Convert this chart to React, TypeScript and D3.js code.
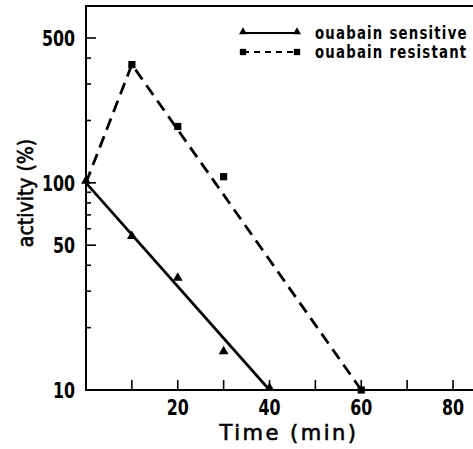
import { useEffect, useRef } from 'react'
import * as d3 from 'd3'

// values
const sensitiveTime = [0, 10, 20, 30, 40]
const sensitiveActivity = [100, 54, 34, 15, 10]
const resistantTime = [0, 10, 20, 30, 60]
const resistantActivity = [100, 372, 187, 107, 10]

// drawn lines (fits)
const sensitiveFitTime = [0, 40]
const sensitiveFitActivity = [100, 10]
const resistantFitTime = [0, 10, 60]
const resistantFitActivity = [100, 372, 10]

const xTicks = [10, 20, 30, 40, 50, 60, 70, 80]
const xTickLabels = [20, 40, 60, 80]
const yTicks = [20, 30, 40, 50, 60, 70, 80, 90, 100, 200, 300, 400, 500]
const yTickLabels = [10, 50, 100, 500]

const legendLabels = ['ouabain sensitive', 'ouabain resistant']

export default function App() {
  const ref = useRef<SVGSVGElement>(null)

  const width = 473
  const height = 449

  useEffect(() => {
    const svg = d3.select(ref.current)
    svg.selectAll('*').remove()

    const left = 86
    const bottom = 390
    const top = 6

    const x = d3.scaleLinear().domain([0, 80]).range([left, 453])
    const y = d3.scaleLog().domain([10, 500]).range([bottom, 38])

    const font = "'DejaVu Sans Condensed', 'DejaVu Sans', sans-serif"
    const plain = "'DejaVu Sans', sans-serif"

    // frame
    svg.append('path')
      .attr('d', `M${width},${top}H${left}V${bottom}H${width}`)
      .attr('fill', 'none')
      .attr('stroke', '#000')
      .attr('stroke-width', 2)

    // x ticks (inward)
    svg.selectAll('.xtick')
      .data(xTicks)
      .enter()
      .append('line')
      .attr('x1', (d) => x(d))
      .attr('x2', (d) => x(d))
      .attr('y1', bottom)
      .attr('y2', bottom - 10)
      .attr('stroke', '#000')
      .attr('stroke-width', 1.6)

    svg.selectAll('.xlabel')
      .data(xTickLabels)
      .enter()
      .append('text')
      .attr('transform', (d) => `translate(${x(d)},${bottom + 25}) scale(0.8,1)`)
      .attr('text-anchor', 'middle')
      .style('font-family', font)
      .style('font-weight', 'bold')
      .style('font-size', '22px')
      .text((d) => d)

    // y ticks (inward)
    svg.selectAll('.ytick')
      .data(yTicks)
      .enter()
      .append('line')
      .attr('x1', left)
      .attr('x2', (d) => left + (yTickLabels.includes(d) ? 10 : 5))
      .attr('y1', (d) => y(d))
      .attr('y2', (d) => y(d))
      .attr('stroke', '#000')
      .attr('stroke-width', 1.6)

    svg.selectAll('.ylabel')
      .data(yTickLabels)
      .enter()
      .append('text')
      .attr('transform', (d) => `translate(75,${y(d) + 8}) scale(0.8,1)`)
      .attr('text-anchor', 'end')
      .style('font-family', font)
      .style('font-weight', 'bold')
      .style('font-size', '22px')
      .text((d) => d)

    // axis titles
    svg.append('text')
      .attr('x', 289)
      .attr('y', 440)
      .attr('text-anchor', 'middle')
      .style('font-family', plain)
      .style('font-size', '21px')
      .style('letter-spacing', '2.5px')
      .attr('stroke', '#000')
      .attr('stroke-width', 0.6)
      .text('Time (min)')

    svg.append('text')
      .attr('transform', 'translate(33, 193) rotate(-90)')
      .attr('text-anchor', 'middle')
      .style('font-family', font)
      .style('font-size', '21px')
      .attr('stroke', '#000')
      .attr('stroke-width', 0.6)
      .text('activity (%)')

    const line = d3.line<number[]>()
      .x((d) => x(d[0]))
      .y((d) => y(d[1]))

    svg.append('path')
      .datum(d3.zip(sensitiveFitTime, sensitiveFitActivity))
      .attr('d', line)
      .attr('fill', 'none')
      .attr('stroke', '#000')
      .attr('stroke-width', 2.7)

    svg.append('path')
      .datum(d3.zip(resistantFitTime, resistantFitActivity))
      .attr('d', line)
      .attr('fill', 'none')
      .attr('stroke', '#000')
      .attr('stroke-width', 2.8)
      .attr('stroke-dasharray', '12,7')

    const tri = d3.symbol().type(d3.symbolTriangle).size(42)
    const sq = d3.symbol().type(d3.symbolSquare).size(52)
    const triSmall = d3.symbol().type(d3.symbolTriangle).size(28)
    const sqSmall = d3.symbol().type(d3.symbolSquare).size(40)

    svg.selectAll('.tri')
      .data(d3.zip(sensitiveTime, sensitiveActivity))
      .enter()
      .append('path')
      .attr('d', tri)
      .attr('transform', (d) => `translate(${x(d[0])},${y(d[1]) - 2})`)
      .attr('fill', '#000')

    svg.selectAll('.sq')
      .data(d3.zip(resistantTime, resistantActivity).filter((d) => d[0] > 0))
      .enter()
      .append('path')
      .attr('d', sq)
      .attr('transform', (d) => `translate(${x(d[0])},${y(d[1])})`)
      .attr('fill', '#000')

    // legend
    const legend = svg.append('g')
    legendLabels.forEach((label, i) => {
      const ly = 33 + i * 19
      legend.append('line')
        .attr('x1', 243)
        .attr('x2', 297)
        .attr('y1', ly)
        .attr('y2', ly)
        .attr('stroke', '#000')
        .attr('stroke-width', 2)
        .attr('stroke-dasharray', i === 1 ? '6,5' : null)
      legend.append('path')
        .attr('d', i === 0 ? triSmall : sqSmall)
        .attr('transform', `translate(243,${ly - (i === 0 ? 1 : 0)})`)
      legend.append('path')
        .attr('d', i === 0 ? triSmall : sqSmall)
        .attr('transform', `translate(297,${ly - (i === 0 ? 1 : 0)})`)
      legend.append('text')
        .attr('transform', `translate(315,${ly + 6}) scale(0.82,1)`)
        .style('font-family', font)
        .style('font-weight', 'bold')
        .style('font-size', '18px')
        .style('letter-spacing', '1.5px')
        .text(label)
    })
  }, [])

  return (
    <svg
      ref={ref}
      width={width}
      height={height}
      style={{ position: 'absolute', left: 0, top: 0, background: '#fff' }}
    />
  )
}
